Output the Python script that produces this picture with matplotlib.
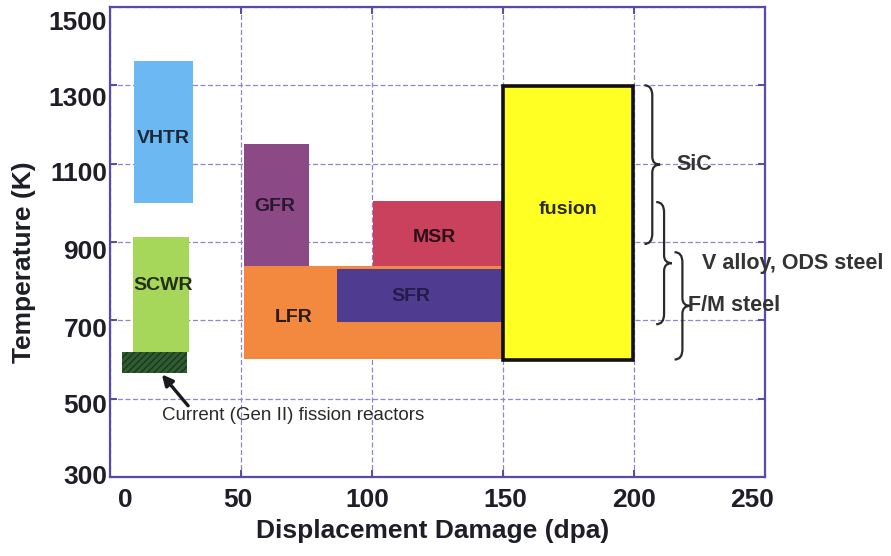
import matplotlib

matplotlib.use("Agg")

import matplotlib.pyplot as plt
import matplotlib.transforms as mtransforms
import numpy as np
from matplotlib.path import Path
from matplotlib.patches import PathPatch


# -->> Data <<-------------------------

reactors = ["VHTR", "SCWR", "Gen II", "GFR", "LFR", "SFR", "MSR", "fusion"]
dpa_lo = [9.2, 8.9, 4.5, 51, 51, 86.5, 100.5, 150]
dpa_hi = [31.7, 30.2, 29.5, 76, 150, 150, 150, 199.5]
temp_lo = [1000, 620, 565, 840, 602, 695, 838, 600]
temp_hi = [1362, 912, 620, 1150, 840, 832, 1005, 1298]

box_label_x = [20.2, 20.2, None, 63, 70, 115, 124, 175]
box_label_y = [1165, 790, None, 990, 708, 760, 912, 982]

brace_labels = ["SiC", "V alloy, ODS steel", "F/M steel"]
brace_lo = [895, 690, 600]
brace_hi = [1300, 1002, 874]
brace_spine = [207, 211.5, 218.5]
brace_text_x = [216.4, 226, 220.8]

note_text = "Current (Gen II) fission reactors"
note_xy = (19.8, 458)
arrow_head = (19.8, 562)
arrow_tail = (29.8, 482)

x_ticks = [0, 50, 100, 150, 200, 250]
y_ticks = [300, 500, 700, 900, 1100, 1300, 1500]

# the tick labels of the source figure sit a little off their ticks (pixels)
x_label_shift = [15, -3, -5, 2, 0, -13]
y_label_shift = [-3, 5, 7, 8, 8, 11, 14]


# -->> Style <<------------------------

FRAME = "#5a4aa6"
GRID = "#9284cc"
TXT = "#1e1e28"

fills = ["#6cb8f2", "#a6d65a", "#2f5c31", "#8b4a86",
         "#f2893f", "#4f3b8f", "#c9415d", "#ffff24"]
label_colors = ["#1b2838", "#233018", None, "#2a1830",
                "#2a1a10", "#241c48", "#2a1018", "#2a2a10"]

plt.rcParams["font.family"] = ["Liberation Sans", "DejaVu Sans"]


def brace_path(x_spine, y0, y1, dx=3.0, ry=26.0, rt=20.0):
    """Right pointing curly brace between y0 and y1 at x_spine."""
    ym = (y0 + y1) / 2.0
    xl = x_spine - dx
    xt = x_spine + dx
    verts = [
        (xl, y1), (x_spine, y1), (x_spine, y1 - ry),
        (x_spine, ym + rt),
        (x_spine, ym), (xt, ym),
        (x_spine, ym), (x_spine, ym - rt),
        (x_spine, y0 + ry),
        (x_spine, y0), (xl, y0),
    ]
    codes = [
        Path.MOVETO, Path.CURVE3, Path.CURVE3,
        Path.LINETO,
        Path.CURVE3, Path.CURVE3,
        Path.CURVE3, Path.CURVE3,
        Path.LINETO,
        Path.CURVE3, Path.CURVE3,
    ]
    return Path(verts, codes)


fig = plt.figure(figsize=(8.91, 5.56), dpi=100)
ax = fig.add_axes([0.1235, 0.142, 0.735, 0.8455])

# grid first so the boxes cover it
ax.set_axisbelow(True)
ax.grid(True, color=GRID, linewidth=0.9, linestyle=(0, (4, 2)))

lo = np.array(dpa_lo)
width = np.array(dpa_hi) - lo
bottom = np.array(temp_lo)
height = np.array(temp_hi) - bottom

for i, name in enumerate(reactors):
    if name == "Gen II":
        ax.bar(lo[i], height[i], width=width[i], bottom=bottom[i], align="edge",
               color=fills[i], edgecolor="#1a361b", linewidth=0, hatch="/////",
               zorder=3)
    elif name == "fusion":
        ax.bar(lo[i], height[i], width=width[i], bottom=bottom[i], align="edge",
               color=fills[i], edgecolor="#111111", linewidth=2.6, zorder=4)
    else:
        ax.bar(lo[i], height[i], width=width[i], bottom=bottom[i], align="edge",
               color=fills[i], linewidth=0, zorder=3)

    if box_label_x[i] is not None:
        ax.text(box_label_x[i], box_label_y[i], name, ha="center", va="center",
                fontsize=14, fontweight="bold", color=label_colors[i], zorder=5)

# braces for materials
for lab, y0, y1, xs, xt in zip(brace_labels, brace_lo, brace_hi,
                               brace_spine, brace_text_x):
    ax.add_patch(PathPatch(brace_path(xs, y0, y1), facecolor="none",
                           edgecolor="#2a2a2a", linewidth=1.6,
                           clip_on=False, zorder=5))
    ax.text(xt, (y0 + y1) / 2.0, lab, ha="left", va="center", fontsize=15.5,
            fontweight="bold", color="#333333", clip_on=False, zorder=6)

# current reactors note
ax.text(note_xy[0], note_xy[1], note_text, ha="left", va="center",
        fontsize=13.5, color="#2a2a2a", zorder=5)
ax.annotate("", xy=arrow_head, xytext=arrow_tail,
            arrowprops=dict(arrowstyle="-|>", color="#1a1a1a", lw=2.4,
                            mutation_scale=16, shrinkA=0, shrinkB=0),
            zorder=5)

ax.set_xlim(0, 250)
ax.set_ylim(300, 1500)
ax.set_xticks(x_ticks)
ax.set_yticks(y_ticks)

for side in ax.spines.values():
    side.set_color(FRAME)
    side.set_linewidth(1.6)

ax.tick_params(direction="in", length=5, width=1.4, color=FRAME,
               top=True, right=True, labelsize=19, labelcolor=TXT)
ax.tick_params(axis="x", pad=8)
ax.tick_params(axis="y", pad=2)

for lbl, dx in zip(ax.get_xticklabels(), x_label_shift):
    lbl.set_fontweight("bold")
    lbl.set_transform(lbl.get_transform() + mtransforms.ScaledTranslation(
        dx / 100, 0, fig.dpi_scale_trans))
for lbl, dy in zip(ax.get_yticklabels(), y_label_shift):
    lbl.set_fontweight("bold")
    lbl.set_transform(lbl.get_transform() + mtransforms.ScaledTranslation(
        0, -dy / 100, fig.dpi_scale_trans))

fig.text(24 / 891, 1 - 262 / 556, "Temperature (K)", rotation=90,
         ha="center", va="center", fontsize=19, fontweight="bold", color=TXT)
fig.text(433 / 891, 1 - 531 / 556, "Displacement Damage (dpa)",
         ha="center", va="center", fontsize=19, fontweight="bold", color=TXT)

fig.savefig("out.png", dpi=100)
